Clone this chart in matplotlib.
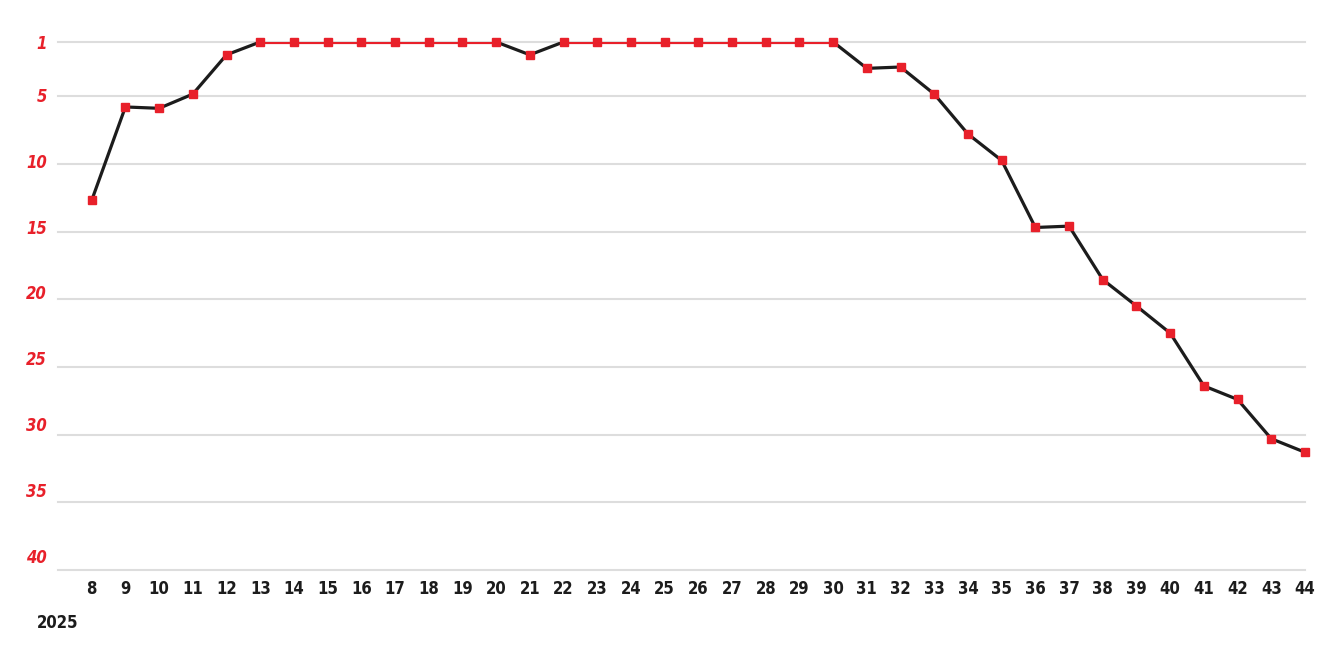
import numpy as np
import matplotlib.pyplot as plt
import matplotlib.transforms as mtransforms

weeks = np.arange(8, 45)
rank = [12.7, 5.8, 5.9, 4.85, 1.95, 1, 1, 1, 1, 1, 1, 1, 1, 1.95,
        1, 1, 1, 1, 1, 1, 1, 1, 1, 2.95, 2.85, 4.85, 7.8, 9.75,
        14.7, 14.6, 18.55, 20.5, 22.5, 26.4, 27.4, 30.3, 31.3]
y_ticks = [1, 5, 10, 15, 20, 25, 30, 35, 40]
year = '2025'

red = '#e8202a'
dark = '#1c1c1c'

fig = plt.figure(figsize=(13.33, 6.66), dpi=100)
ax = fig.add_axes([0.0435, 0.144, 0.9355, 0.793])

# line segments: red where the song sits at number 1, black otherwise
for i in range(len(weeks) - 1):
    c = red if rank[i] == 1 and rank[i + 1] == 1 else dark
    ax.plot(weeks[i:i + 2], rank[i:i + 2], color=c, lw=2.3, solid_capstyle='round', zorder=3)
ax.plot(weeks, rank, ls='none', marker='s', ms=5.5, color=red, zorder=4, clip_on=False)

ax.set_xlim(7, 44)
ax.set_ylim(40, 1)
ax.set_yticks(y_ticks)
ax.set_xticks(weeks)
ax.grid(axis='y', color='#dddddd', lw=1.5)
for gl in ax.get_ygridlines():
    gl.set_clip_on(False)
ax.set_axisbelow(True)
for s in ax.spines.values():
    s.set_visible(False)
ax.tick_params(length=0)
ax.tick_params(axis='x', pad=7)
ax.tick_params(axis='y', pad=8)

for v, lab in zip(y_ticks, ax.get_yticklabels()):
    lab.set_color(red)
    lab.set_fontweight('bold')
    lab.set_fontstyle('italic')
    lab.set_fontsize(12)
    lab.set_fontstretch('condensed')
    # the labels creep upward from the grid lines in the original
    lab.set_transform(lab.get_transform() + mtransforms.ScaledTranslation(0, (v - 1) * 0.0036, fig.dpi_scale_trans))
for lab in ax.get_xticklabels():
    lab.set_color(dark)
    lab.set_fontweight('bold')
    lab.set_fontsize(12)
    lab.set_fontstretch('condensed')

fig.text(0.043, 0.065, year, fontsize=12, fontweight='bold', color=dark,
         ha='center', va='center', fontstretch='condensed')

fig.savefig('out.png', dpi=100)
